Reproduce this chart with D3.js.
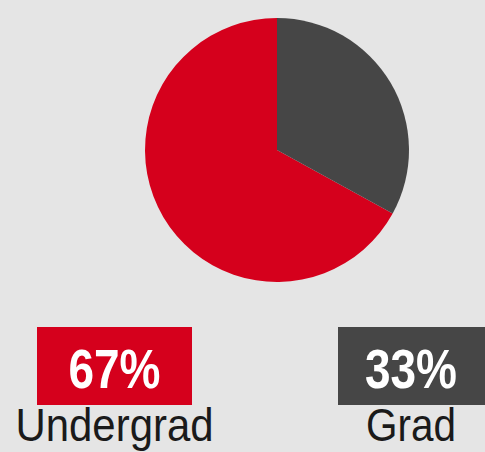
<!DOCTYPE html>
<head>
  <meta charset="utf-8">
  <script src="https://d3js.org/d3.v7.min.js"></script>
  <style>
    body { margin:0; background:#e5e5e5; }
    svg { display:block; }
    text { font-family: "Liberation Sans Narrow", "Liberation Sans", Arial, sans-serif; }
  </style>
</head>

<body>
  <svg width="485" height="452"></svg>
  <script>

    var categories = ["Undergrad", "Grad"];
    var shares = [67, 33];
    var pctLabels = ["67%", "33%"];
    var colours = ["#d5001c", "#464646"];

    var svg = d3.select("svg");

    var cx = 277, cy = 150, radius = 132;

    // grad slice starts at 12 o'clock, so rotate the whole pie back by the undergrad share
    var total = d3.sum(shares);
    var start = -2 * Math.PI * shares[0] / total;

    var pie = d3.pie()
      .sort(null)
      .startAngle(start)
      .endAngle(start + 2 * Math.PI);

    var arc = d3.arc().innerRadius(0).outerRadius(radius);

    svg.append("g")
      .attr("transform", "translate(" + cx + "," + cy + ")")
      .selectAll("path")
      .data(pie(shares))
      .enter()
      .append("path")
      .attr("d", arc)
      .attr("fill", function(d, i) { return colours[i]; });

    // labels underneath
    var x = d3.scalePoint()
      .domain(categories)
      .range([114.5, 411]);

    var boxW = 155, boxH = 78, boxTop = 327;

    var lab = svg.selectAll(".lab")
      .data(categories)
      .enter()
      .append("g")
      .attr("class", "lab")
      .attr("transform", function(d) { return "translate(" + x(d) + ",0)"; });

    lab.append("rect")
      .attr("x", function(d, i) { return i == 0 ? -boxW / 2 : -73; })
      .attr("y", boxTop)
      .attr("width", boxW)
      .attr("height", boxH)
      .attr("fill", function(d, i) { return colours[i]; });

    // no narrow font installed, so squeeze the glyphs to the reference widths
    lab.append("text")
      .attr("y", 388)
      .attr("text-anchor", "middle")
      .attr("fill", "#fff")
      .attr("font-weight", "bold")
      .attr("font-size", 55)
      .attr("textLength", 92)
      .attr("lengthAdjust", "spacingAndGlyphs")
      .text(function(d, i) { return pctLabels[i]; });

    lab.append("text")
      .attr("y", 441)
      .attr("text-anchor", "middle")
      .attr("fill", "#1a1a1a")
      .attr("font-size", 46)
      .attr("textLength", function(d, i) { return i == 0 ? 198 : 90; })
      .attr("lengthAdjust", "spacingAndGlyphs")
      .text(function(d) { return d; });

  </script>
</body>
